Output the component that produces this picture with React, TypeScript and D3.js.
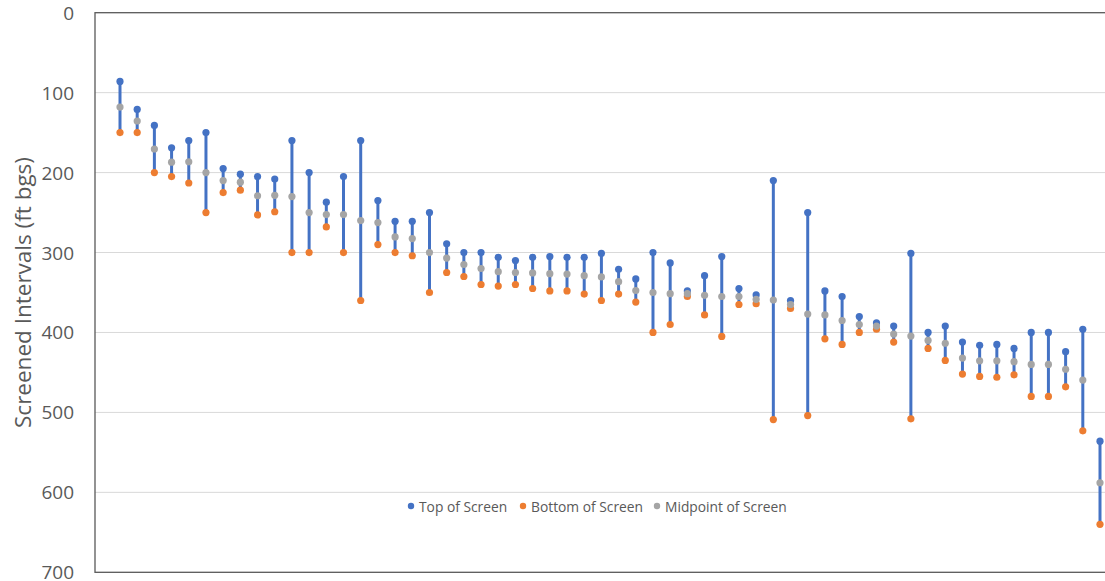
import React from "react";
import * as d3 from "d3";

const wellIds: number[] = Array.from({ length: 58 }, (_, i) => i + 1);

const topOfScreen: number[] = [
  86, 121, 141, 169, 160, 150, 195, 202, 205, 208,
  160, 200, 237, 205, 160, 235, 261, 261, 250, 289,
  300, 300, 306, 310, 306, 305, 306, 306, 301, 321,
  333, 300, 313, 348, 329, 305, 345, 353, 210, 360,
  250, 348, 355, 380, 388, 392, 301, 400, 392, 412,
  416, 415, 420, 400, 400, 424, 396, 536,
];

const bottomOfScreen: number[] = [
  150, 150, 200, 205, 213, 250, 225, 222, 253, 249,
  300, 300, 268, 300, 360, 290, 300, 304, 350, 325,
  330, 340, 342, 340, 345, 348, 348, 352, 360, 352,
  362, 400, 390, 355, 378, 405, 365, 364, 509, 370,
  504, 408, 415, 400, 396, 412, 508, 420, 435, 452,
  455, 456, 453, 480, 480, 468, 523, 640,
];

const midpointOfScreen: number[] = [
  118, 135.5, 170.5, 187, 186.5, 200, 210, 212, 229, 228.5,
  230, 250, 252.5, 252.5, 260, 262.5, 280.5, 282.5, 300, 307,
  315, 320, 324, 325, 325.5, 326.5, 327, 329, 330.5, 336.5,
  347.5, 350, 351.5, 351.5, 353.5, 355, 355, 358.5, 359.5, 365,
  377, 378, 385, 390, 392, 402, 404.5, 410, 413.5, 432,
  435.5, 435.5, 436.5, 440, 440, 446, 459.5, 588,
];

const yTicks: number[] = [0, 100, 200, 300, 400, 500, 600, 700];
const yTitle = "Screened Intervals (ft bgs)";
const legendLabels: string[] = ["Top of Screen", "Bottom of Screen", "Midpoint of Screen"];

const W = 1105;
const H = 581;
const plotLeft = 95;
const plotTop = 12.7;
const plotBottom = 572.3;
const plotRight = 1107;

const BLUE = "#4472C4";
const ORANGE = "#ED7D31";
const GREY = "#A5A5A5";
const TEXT = "#595959";
const FONT = "'Open Sans', 'Noto Sans', sans-serif";

export default function App() {
  const y = d3.scaleLinear().domain([0, 700]).range([plotTop, plotBottom]);
  const x = d3.scaleLinear().domain([1, 58]).range([120, 1100]);

  const legendColors = [BLUE, ORANGE, GREY];
  const legendDotX = [411, 523, 657];
  const legendY = 506;

  return (
    <svg
      width={W}
      height={H}
      style={{ position: "absolute", left: 0, top: 0, background: "#fff" }}
      fontFamily={FONT}
    >
      {yTicks.slice(1, -1).map((t) => (
        <line
          key={"g" + t}
          x1={plotLeft}
          x2={plotRight}
          y1={y(t)}
          y2={y(t)}
          stroke="#D9D9D9"
          strokeWidth={1}
        />
      ))}
      <rect
        x={plotLeft}
        y={plotTop}
        width={plotRight - plotLeft}
        height={plotBottom - plotTop}
        fill="none"
        stroke="#595959"
        strokeWidth={1.3}
      />
      {yTicks.map((t) => (
        <text
          key={"t" + t}
          x={74}
          y={y(t)}
          textAnchor="end"
          dominantBaseline="central"
          fontSize={19}
          fill={TEXT}
        >
          {t}
        </text>
      ))}
      <text
        transform={`translate(22, ${(plotTop + plotBottom) / 2}) rotate(-90)`}
        textAnchor="middle"
        dominantBaseline="central"
        fontSize={22.5}
        fill={TEXT}
      >
        {yTitle}
      </text>
      {wellIds.map((id, i) => (
        <line
          key={"l" + id}
          x1={x(id)}
          x2={x(id)}
          y1={y(topOfScreen[i])}
          y2={y(bottomOfScreen[i])}
          stroke={BLUE}
          strokeWidth={3}
        />
      ))}
      {wellIds.map((id, i) => (
        <circle key={"tp" + id} cx={x(id)} cy={y(topOfScreen[i])} r={3.6} fill={BLUE} />
      ))}
      {wellIds.map((id, i) => (
        <circle key={"bt" + id} cx={x(id)} cy={y(bottomOfScreen[i])} r={3.6} fill={ORANGE} />
      ))}
      {wellIds.map((id, i) => (
        <circle key={"md" + id} cx={x(id)} cy={y(midpointOfScreen[i])} r={3.6} fill={GREY} />
      ))}
      {legendLabels.map((lab, i) => (
        <g key={"lg" + i}>
          <circle cx={legendDotX[i]} cy={legendY} r={3.2} fill={legendColors[i]} />
          <text
            x={legendDotX[i] + 8}
            y={legendY}
            dominantBaseline="central"
            fontSize={13.8}
            fill={TEXT}
          >
            {lab}
          </text>
        </g>
      ))}
    </svg>
  );
}
